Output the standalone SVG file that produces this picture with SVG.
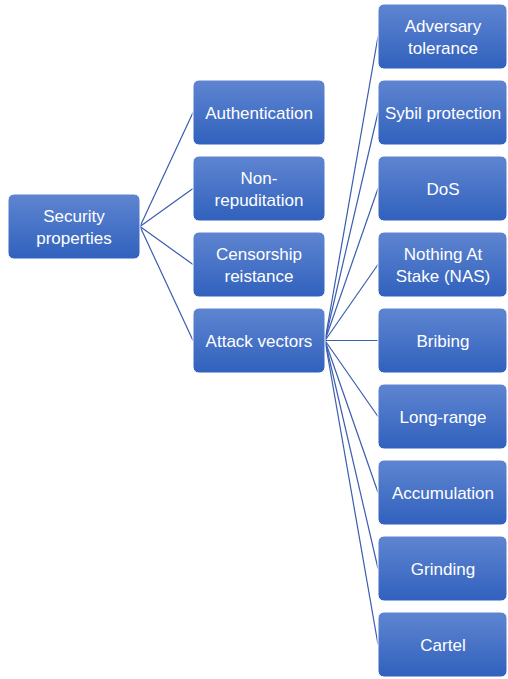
<svg xmlns="http://www.w3.org/2000/svg" width="508" height="679" viewBox="0 0 508 679">
<defs>
<linearGradient id="g" x1="0" y1="0" x2="0" y2="1">
<stop offset="0" stop-color="#5F85D1"/>
<stop offset="1" stop-color="#3061BD"/>
</linearGradient>
<style>
.b{fill:url(#g);stroke:#FFFFFF;stroke-width:1}
.t{fill:#FFFFFF;font-family:"Liberation Sans",Arial,sans-serif;font-size:17px;text-anchor:middle}
.c line{stroke:#3A5DAE;stroke-width:1.2}
</style>
</defs>
<rect width="508" height="679" fill="#FFFFFF"/>
<g class="c" id="connectors">
<line x1="140" y1="226.5" x2="193" y2="112.5"/>
<line x1="140" y1="226.5" x2="193" y2="188.5"/>
<line x1="140" y1="226.5" x2="193" y2="264.5"/>
<line x1="140" y1="226.5" x2="193" y2="340.5"/>
<line x1="325" y1="340.5" x2="378" y2="36.5"/>
<line x1="325" y1="340.5" x2="378" y2="112.5"/>
<line x1="325" y1="340.5" x2="378" y2="188.5"/>
<line x1="325" y1="340.5" x2="378" y2="264.5"/>
<line x1="325" y1="340.5" x2="378" y2="340.5"/>
<line x1="325" y1="340.5" x2="378" y2="416.5"/>
<line x1="325" y1="340.5" x2="378" y2="492.5"/>
<line x1="325" y1="340.5" x2="378" y2="568.5"/>
<line x1="325" y1="340.5" x2="378" y2="644.5"/>
</g>
<g id="security"><rect class="b" x="8" y="194" width="132" height="65" rx="6"/><text class="t" x="74" y="222">Security</text><text class="t" x="74" y="244">properties</text></g>
<g id="auth"><rect class="b" x="193" y="80" width="132" height="65" rx="6"/><text class="t" x="259" y="118.5">Authentication</text></g>
<g id="nonrep"><rect class="b" x="193" y="156" width="132" height="65" rx="6"/><text class="t" x="259" y="184">Non-</text><text class="t" x="259" y="206">repuditation</text></g>
<g id="censor"><rect class="b" x="193" y="232" width="132" height="65" rx="6"/><text class="t" x="259" y="260">Censorship</text><text class="t" x="259" y="282">reistance</text></g>
<g id="attack"><rect class="b" x="193" y="308" width="132" height="65" rx="6"/><text class="t" x="259" y="346.5">Attack vectors</text></g>
<g id="adversary"><rect class="b" x="378" y="4" width="129" height="65" rx="6"/><text class="t" x="443" y="32">Adversary</text><text class="t" x="443" y="54">tolerance</text></g>
<g id="sybil"><rect class="b" x="378" y="80" width="129" height="65" rx="6"/><text class="t" x="443" y="118.5">Sybil protection</text></g>
<g id="dos"><rect class="b" x="378" y="156" width="129" height="65" rx="6"/><text class="t" x="443" y="194.5">DoS</text></g>
<g id="nas"><rect class="b" x="378" y="232" width="129" height="65" rx="6"/><text class="t" x="443" y="260">Nothing At</text><text class="t" x="443" y="282">Stake (NAS)</text></g>
<g id="bribing"><rect class="b" x="378" y="308" width="129" height="65" rx="6"/><text class="t" x="443" y="346.5">Bribing</text></g>
<g id="longrange"><rect class="b" x="378" y="384" width="129" height="65" rx="6"/><text class="t" x="443" y="422.5">Long-range</text></g>
<g id="accum"><rect class="b" x="378" y="460" width="129" height="65" rx="6"/><text class="t" x="443" y="498.5">Accumulation</text></g>
<g id="grinding"><rect class="b" x="378" y="536" width="129" height="65" rx="6"/><text class="t" x="443" y="574.5">Grinding</text></g>
<g id="cartel"><rect class="b" x="378" y="612" width="129" height="65" rx="6"/><text class="t" x="443" y="650.5">Cartel</text></g>
</svg>
